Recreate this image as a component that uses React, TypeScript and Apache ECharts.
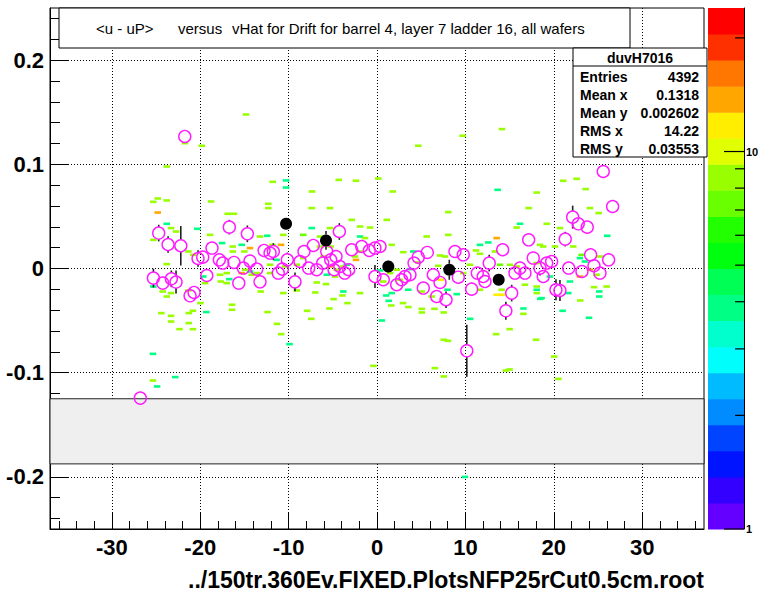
import React, { useEffect, useRef } from 'react';
import * as echarts from 'echarts';

// ---------- axis ranges & ticks ----------
const X_MIN = -37;
const X_MAX = 37;
const Y_MIN = -0.25;
const Y_MAX = 0.25;
const Z_MAX = 24;

const xTickValues = [-30, -20, -10, 0, 10, 20, 30];
const yTickValues = [-0.2, -0.1, 0, 0.1, 0.2];
const zTickValues = [1, 2, 3, 4, 5, 6, 7, 8, 9, 10, 20];
const zLabelValues = [1, 10];

const binWidthX = 0.74;
const binWidthY = 0.0025;
const greyBand = [-0.1875, -0.125];

// ---------- texts ----------
const titleLeft = '<u - uP>';
const titleMid = 'versus';
const titleRight = 'vHat for Drift for barrel 4, layer 7 ladder 16, all wafers';
const statsName = 'duvH7016';
const statsLabels = ['Entries', 'Mean x', 'Mean y', 'RMS x', 'RMS y'];
const statsValues = ['4392', '0.1318', '0.002602', '14.22', '0.03553'];
const xTitle = '../150tr.360Ev.FIXED.PlotsNFP25rCut0.5cm.root';

// ---------- profile (magenta open circles): [x, mean, error] ----------
const profilePoints = [
  [-26.78, -0.1244, 0.005], [-25.3, -0.0092, 0.009], [-24.7, 0.034, 0.008], [-24.24, -0.014, 0.006],
  [-23.64, 0.023, 0.008], [-23.27, -0.0099, 0.008], [-22.74, -0.013, 0.011], [-22.2, 0.0218, 0.019],
  [-21.75, 0.1267, 0.004], [-21.15, -0.0262, 0.005], [-20.7, -0.023, 0.006], [-20.25, 0.0096, 0.008],
  [-19.72, 0.0109, 0.005], [-19.26, -0.0067, 0.005], [-18.67, 0.0196, 0.005], [-17.84, 0.0083, 0.005],
  [-17.45, 0.0052, 0.005], [-16.71, 0.0397, 0.007], [-16.18, 0.0058, 0.005], [-15.64, -0.014, 0.005],
  [-15.12, 0.0004, 0.005], [-14.67, 0.0333, 0.008], [-14.37, 0.0071, 0.005], [-13.61, -0.0006, 0.005],
  [-13.24, -0.0128, 0.005], [-12.78, 0.0173, 0.005], [-12.1, 0.0148, 0.005], [-11.73, 0.0163, 0.008],
  [-11.17, -0.0044, 0.005], [-10.71, -0.0006, 0.005], [-10.15, 0.0083, 0.007], [-9.28, -0.0128, 0.009],
  [-8.71, 0.0067, 0.005], [-8.26, 0.0163, 0.005], [-7.73, 0.0004, 0.005], [-7.21, 0.0221, 0.005],
  [-6.82, -0.0012, 0.005], [-6.14, 0.0052, 0.005], [-5.69, 0.0163, 0.005], [-5.24, 0.0083, 0.005],
  [-4.86, -0.0012, 0.005], [-4.64, 0.0115, 0.005], [-4.26, 0.0355, 0.008], [-4.2, 0.0019, 0.005],
  [-3.65, -0.0044, 0.005], [-3.2, -0.0012, 0.005], [-2.86, 0.018, 0.005], [-1.73, 0.0211, 0.005],
  [-0.87, 0.0173, 0.005], [-0.23, 0.0196, 0.005], [-0.23, -0.0077, 0.011], [0.34, 0.0211, 0.005],
  [0.71, -0.0108, 0.005], [2.23, -0.0156, 0.005], [2.79, -0.0108, 0.005], [3.17, -0.0077, 0.005],
  [3.73, -0.006, 0.005], [4.19, 0.0052, 0.005], [4.67, 0.0109, 0.005], [5.24, -0.0188, 0.005],
  [5.69, 0.0154, 0.005], [6.37, -0.006, 0.005], [6.75, -0.0269, 0.005], [7.13, -0.0134, 0.005],
  [7.81, -0.03, 0.008], [8.82, 0.0163, 0.005], [9.2, -0.0083, 0.005], [9.76, 0.0131, 0.005],
  [10.16, -0.079, 0.025], [10.71, -0.0198, 0.006], [11.35, -0.0044, 0.005], [12.02, -0.0077, 0.005],
  [12.22, -0.0125, 0.005], [12.7, 0.0052, 0.008], [14.22, 0.018, 0.005], [14.58, -0.0406, 0.0086],
  [15.24, -0.0236, 0.008], [15.61, -0.0044, 0.005], [16.18, 0.0004, 0.005], [16.74, -0.0044, 0.005],
  [17.16, 0.0275, 0.005], [17.68, 0.01, 0.005], [18.44, 0.0004, 0.007], [18.81, -0.0077, 0.005],
  [19.2, 0.0052, 0.005], [19.76, 0.0067, 0.005], [20.25, -0.0204, 0.01], [20.7, -0.0211, 0.01],
  [21.3, 0.0282, 0.007], [21.69, 0.0004, 0.005], [22.14, 0.0493, 0.011], [22.77, 0.0429, 0.005],
  [23.19, -0.0029, 0.005], [23.79, 0.0397, 0.005], [24.17, 0.0131, 0.005], [24.55, 0.0026, 0.005],
  [25.23, -0.0044, 0.005], [25.6, 0.0931, 0.005], [26.21, 0.0083, 0.005], [26.66, 0.0595, 0.005],
];

// ---------- coarse profile (black filled circles): [x, mean, error] ----------
const coarsePoints = [
  [-10.29, 0.0429, 0.005], [-5.77, 0.0269, 0.009], [1.28, 0.0019, 0.006],
  [8.18, -0.0012, 0.0096], [13.77, -0.0108, 0.005],
];

// ---------- 2D histogram cells: [x, y, count] ----------
const cells = [
  [-14.82, 0.1478, 9], [-21.72, 0.1203, 9], [-19.83, 0.1178, 9], [-23.79, 0.0979, 9],
  [-11.8, 0.0832, 9], [-10.29, 0.0845, 4], [-10.29, 0.0777, 4], [-4.33, 0.0851, 9],
  [-2.38, 0.0842, 9], [0.15, 0.0864, 9], [-7.35, 0.0739, 9], [-24.81, 0.0672, 9],
  [-25.31, 0.064, 9], [-23.79, 0.0653, 9], [-18.78, 0.0643, 9], [-24.81, 0.0537, 14],
  [-12.3, 0.0621, 9], [-12.3, 0.058, 9], [-7.39, 0.058, 9], [-5.32, 0.058, 9],
  [-16.9, 0.0525, 9], [-16.2, 0.0525, 9], [-23.79, 0.0429, 4], [-23.3, 0.0388, 9],
  [-22.74, 0.0355, 9], [-25.31, 0.0275, 9], [-20.33, 0.0381, 4], [-18.89, 0.0323, 9],
  [-17.53, 0.0244, 4], [-14.37, 0.0196, 14], [-16.32, 0.0211, 9], [-16.32, 0.0163, 9],
  [-15.31, 0.0227, 4], [-15.01, 0.0163, 9], [-13.24, 0.0307, 9], [-12.41, 0.0314, 4],
  [-11.84, 0.0227, 9], [-10.86, 0.0227, 14], [-10.6, 0.0323, 9], [-8.34, 0.0323, 7],
  [-7.39, 0.0388, 4], [-6.45, 0.0307, 9], [-5.32, 0.0388, 9], [-6.45, 0.0211, 9],
  [-5.24, 0.0211, 9], [-2.86, 0.0467, 9], [-1.92, 0.0403, 9], [-0.79, 0.0393, 9],
  [-1.92, 0.0307, 4], [-1.36, 0.0292, 9], [-2.49, 0.0115, 9], [-1.92, 0.0163, 9],
  [-2.38, 0.0083, 14], [-3.43, 0.0036, 4], [-23.79, 0.0042, 9], [-21.35, 0.0163, 9],
  [-20.78, 0.0131, 9], [-19.46, -0.014, 9], [-17.76, -0.006, 9], [-17.0, -0.0044, 9],
  [-17.68, -0.0125, 9], [-17.0, -0.014, 9], [-16.71, -0.0102, 4], [-15.31, -0.0044, 14],
  [-14.37, -0.0029, 4], [-13.61, -0.0044, 9], [-14.9, -0.0012, 9], [-14.17, -0.006, 9],
  [-12.1, -0.0044, 9], [-12.1, 0.0036, 9], [-11.35, 0.0083, 4], [-10.41, 0.0019, 9],
  [-9.08, 0.0036, 9], [-8.34, 0.01, 9], [-6.07, 0.0115, 9], [-5.32, 0.0019, 14],
  [-4.56, -0.0012, 9], [-3.81, 0.0019, 9], [-4.75, -0.0077, 9], [-5.69, -0.006, 4],
  [-6.82, -0.0134, 9], [-5.77, -0.015, 9], [-3.81, -0.0221, 4], [-1.92, -0.0236, 9],
  [-6.98, -0.023, 9], [-9.08, -0.0211, 9], [-10.6, -0.0236, 9], [-13.16, -0.0221, 9],
  [-21.35, -0.0211, 9], [-23.79, -0.0269, 9], [-25.31, -0.0173, 4], [-19.65, -0.0077, 4],
  [14.14, 0.1338, 9], [9.69, 0.1274, 9], [4.67, 0.1178, 9], [13.65, 0.0755, 4],
  [1.78, 0.0739, 9], [18.07, 0.0729, 9], [21.07, 0.0842, 9], [22.59, 0.0861, 9],
  [23.61, 0.0762, 9], [17.16, 0.058, 9], [24.1, 0.058, 9], [25.08, 0.0532, 9],
  [8.07, 0.0541, 9], [1.1, 0.0467, 9], [15.8, 0.0393, 9], [16.18, 0.0429, 4],
  [19.2, 0.0429, 9], [20.7, 0.0388, 9], [22.21, 0.0211, 9], [26.05, 0.0314, 4],
  [8.07, 0.0323, 9], [5.62, 0.0307, 9], [1.66, 0.0227, 9], [4.11, 0.0163, 4],
  [2.98, 0.0157, 9], [7.13, 0.0125, 9], [7.69, 0.0115, 9], [11.65, 0.0227, 4],
  [12.59, 0.025, 4], [11.2, 0.0173, 9], [11.65, 0.0141, 9], [13.54, 0.0292, 14],
  [13.35, 0.0163, 9], [18.44, 0.0227, 9], [18.81, 0.0211, 9], [20.14, 0.0211, 9],
  [23.16, 0.0131, 7], [22.96, 0.01, 4], [23.53, 0.0067, 4], [25.23, 0.0115, 9],
  [18.07, 0.0052, 9], [15.05, 0.0036, 9], [15.8, 0.0019, 9], [13.91, 0.0036, 7],
  [9.76, -0.0044, 9], [10.52, 0.0036, 9], [6.93, 0.0026, 9], [4.67, 0.0058, 9],
  [3.73, -0.0006, 4], [2.23, -0.0012, 9], [1.47, -0.0044, 9], [0.34, -0.0019, 4],
  [2.6, -0.0108, 9], [0.71, -0.0125, 9], [1.66, -0.0236, 4], [3.54, -0.0204, 4],
  [5.06, -0.0221, 9], [7.21, -0.0108, 12], [9.02, -0.0246, 4], [6.19, -0.0269, 9],
  [11.65, -0.0204, 9], [13.54, -0.0252, 12], [14.11, -0.0252, 12], [16.74, -0.0156, 9],
  [18.07, -0.0173, 9], [18.07, -0.0204, 4], [18.07, -0.0236, 9], [18.63, -0.0284, 4],
  [21.83, -0.0125, 4], [21.64, -0.0236, 4], [22.96, -0.0077, 14], [24.1, -0.0012, 14],
  [25.15, -0.0221, 4], [25.15, -0.0269, 4], [25.98, -0.0173, 9], [24.85, -0.006, 9],
  [19.57, -0.0077, 4],
  [-24.25, -0.0221, 9], [-23.3, -0.0236, 9], [-24.4, -0.0428, 9], [-23.3, -0.0454, 9],
  [-23.3, -0.0509, 9], [-21.3, -0.0428, 9], [-20.83, -0.0406, 9], [-21.3, -0.0524, 9],
  [-22.35, -0.0582, 9], [-20.83, -0.0582, 9], [-25.35, -0.0819, 4], [-25.35, -0.1075, 9],
  [-24.88, -0.1132, 4], [-22.83, -0.1042, 4], [-19.31, -0.0418, 4], [-19.98, -0.0332, 9],
  [-16.4, -0.0348, 9], [-16.4, -0.0396, 9], [-12.38, -0.0418, 9], [-11.32, -0.0531, 9],
  [-10.85, -0.063, 9], [-9.9, -0.0726, 4], [-7.91, -0.0406, 9], [-7.43, -0.0483, 9],
  [-4.91, -0.0294, 9], [-3.34, -0.0332, 9], [-3.91, -0.0259, 9], [-5.38, -0.0384, 9],
  [0.55, -0.0499, 4], [1.03, -0.0259, 4], [1.32, -0.031, 4], [1.61, -0.0355, 9],
  [2.94, -0.0332, 9], [3.55, -0.037, 9], [5.07, -0.0387, 9], [5.07, -0.0422, 9],
  [6.5, -0.0387, 9], [7.55, -0.0422, 9], [7.98, -0.0204, 4], [6.55, -0.0956, 9],
  [7.55, -0.1036, 9], [-0.4, -0.0934, 9], [7.55, -0.0684, 9], [8.02, -0.0694, 9],
  [10.54, -0.0483, 4], [13.48, -0.063, 9], [15.01, -0.0582, 9], [14.58, -0.0979, 9],
  [15.01, -0.0969, 9], [16.57, -0.0384, 4], [16.57, -0.0435, 9], [18.0, -0.0684, 9],
  [18.47, -0.0291, 4], [20.05, -0.0845, 9], [20.52, -0.1059, 9], [21.0, -0.0406, 4],
  [23.0, -0.0307, 9], [23.99, -0.0473, 4], [24.56, -0.0179, 9], [14.11, -0.0204, 9],
  [9.95, -0.2, 4],
];

// ---------- styling ----------
const FONT = "'Liberation Sans', Arial, Helvetica, sans-serif";
const PALETTE = [
  '#6300ff', '#3300ff', '#0014ff', '#0044ff', '#008bff', '#00bbff', '#00fffc', '#00ffcc', '#00ff85', '#00ff55',
  '#00ff0e', '#22ff00', '#69ff00', '#99ff00', '#e0ff00', '#ffee00', '#ffa700', '#ff7700', '#ff3000', '#ff0000',
];
const N_CONT = PALETTE.length;
const LOGZ = Math.log10(Z_MAX);

function colorFor(count: number) {
  let j = Math.floor((Math.log10(count) / LOGZ) * N_CONT);
  if (j < 0) j = 0;
  if (j > N_CONT - 1) j = N_CONT - 1;
  return PALETTE[j];
}

const xMinor: number[] = [];
for (let v = -36; v <= 36; v += 2) if (v % 10 !== 0) xMinor.push(v);
const yMinor: number[] = [];
for (let k = -12; k <= 12; k++) if (k % 5 !== 0) yMinor.push(Math.round(k * 2) / 100);

function errorBarRenderer(radius: number) {
  return (params: any, api: any) => {
    const x = api.value(0);
    const y = api.value(1);
    const e = api.value(2);
    const c = api.coord([x, y]);
    const t = api.coord([x, y + e]);
    const b = api.coord([x, y - e]);
    const children: any[] = [];
    const style = { stroke: '#222', lineWidth: 1.6 };
    if (c[1] - t[1] > radius) children.push({ type: 'line', shape: { x1: c[0], y1: c[1] - radius, x2: c[0], y2: t[1] }, style });
    if (b[1] - c[1] > radius) children.push({ type: 'line', shape: { x1: c[0], y1: c[1] + radius, x2: c[0], y2: b[1] }, style });
    return { type: 'group', children };
  };
}

export default function App() {
  const ref = useRef<HTMLDivElement>(null);

  useEffect(() => {
    if (!ref.current) return;
    const chart = echarts.init(ref.current, undefined, { renderer: 'svg' });

    const statsRowsY = [76.5, 95, 113, 131, 148.5];
    const graphic: any[] = [
      // title box
      { type: 'rect', z: 100, shape: { x: 59, y: 8, width: 571, height: 40 }, style: { fill: '#fff', stroke: '#000', lineWidth: 1 } },
      { type: 'text', z: 101, x: 96, y: 28, style: { text: titleLeft, font: `15px ${FONT}`, fill: '#000', textVerticalAlign: 'middle' } },
      { type: 'text', z: 101, x: 178, y: 28, style: { text: titleMid, font: `15px ${FONT}`, fill: '#000', textVerticalAlign: 'middle' } },
      { type: 'text', z: 101, x: 232, y: 28, style: { text: titleRight, font: `15px ${FONT}`, fill: '#000', textVerticalAlign: 'middle' } },
      // stats box
      { type: 'rect', z: 100, shape: { x: 573, y: 48, width: 134, height: 109 }, style: { fill: '#fff', stroke: '#000', lineWidth: 1 } },
      { type: 'line', z: 101, shape: { x1: 573, y1: 66, x2: 707, y2: 66 }, style: { stroke: '#000', lineWidth: 1 } },
      { type: 'text', z: 101, x: 640, y: 57.5, style: { text: statsName, font: `bold 14px ${FONT}`, fill: '#000', textAlign: 'center', textVerticalAlign: 'middle' } },
      ...statsLabels.map((s, i) => ({ type: 'text', z: 101, x: 580, y: statsRowsY[i], style: { text: s, font: `bold 14px ${FONT}`, fill: '#000', textVerticalAlign: 'middle' } })),
      ...statsValues.map((s, i) => ({ type: 'text', z: 101, x: 699, y: statsRowsY[i], style: { text: s, font: `bold 14px ${FONT}`, fill: '#000', textAlign: 'right', textVerticalAlign: 'middle' } })),
      // x axis title
      { type: 'text', z: 101, x: 704, y: 580, style: { text: xTitle, font: `bold 23px ${FONT}`, fill: '#000', textAlign: 'right', textVerticalAlign: 'middle' } },
    ];

    const axisLabelStyle = { color: '#000', fontSize: 22, fontWeight: 'bold' as const, fontFamily: FONT };

    chart.setOption({
      animation: false,
      backgroundColor: '#fff',
      grid: [
        { left: 50, right: 55, top: 8, bottom: 64, outerBoundsMode: 'none', containLabel: false, show: true, borderColor: '#000', borderWidth: 1, backgroundColor: 'transparent' },
        { left: 708, top: 8, width: 36, height: 521, outerBoundsMode: 'none', containLabel: false, show: false },
      ],
      xAxis: [
        {
          type: 'value', gridIndex: 0, min: X_MIN, max: X_MAX, splitNumber: 7,
          axisLine: { show: true, onZero: false, lineStyle: { color: '#000', width: 1 } },
          axisTick: { show: true, inside: true, length: 16, customValues: xTickValues, lineStyle: { color: '#000', width: 1 } },
          axisLabel: { ...axisLabelStyle, margin: 7, customValues: xTickValues },
          splitLine: { show: true, lineStyle: { color: '#000', width: 1, type: [1, 2] } },
        },
        {
          type: 'value', gridIndex: 0, min: X_MIN, max: X_MAX, position: 'bottom',
          axisLine: { show: false, onZero: false },
          axisTick: { show: true, inside: true, length: 8, customValues: xMinor, lineStyle: { color: '#000', width: 1 } },
          axisLabel: { show: false },
          splitLine: { show: false },
        },
        { type: 'value', gridIndex: 1, min: 0, max: 1, show: false },
      ],
      yAxis: [
        {
          type: 'value', gridIndex: 0, min: Y_MIN, max: Y_MAX, splitNumber: 5,
          axisLine: { show: true, onZero: false, lineStyle: { color: '#000', width: 1 } },
          axisTick: { show: true, inside: true, length: 19, customValues: yTickValues, lineStyle: { color: '#000', width: 1 } },
          axisLabel: { ...axisLabelStyle, margin: 6, customValues: yTickValues, formatter: (v: number) => String(v) },
          splitLine: { show: true, lineStyle: { color: '#000', width: 1, type: [1, 2] } },
        },
        {
          type: 'value', gridIndex: 0, min: Y_MIN, max: Y_MAX, position: 'left',
          axisLine: { show: false, onZero: false },
          axisTick: { show: true, inside: true, length: 10, customValues: yMinor, lineStyle: { color: '#000', width: 1 } },
          axisLabel: { show: false },
          splitLine: { show: false },
        },
        {
          type: 'value', gridIndex: 1, min: 0, max: LOGZ, interval: 1, position: 'right',
          axisLine: { show: true, onZero: false, lineStyle: { color: '#000', width: 1 } },
          axisTick: { show: false },
          axisLabel: {
            color: '#000', fontSize: 11, fontWeight: 'bold', fontFamily: FONT, margin: 2,
            customValues: zLabelValues.map((v) => Math.log10(v)),
            formatter: (v: number) => String(Math.round(Math.pow(10, v))),
          },
          splitLine: { show: false },
        },
      ],
      graphic,
      series: [
        {
          name: 'cells', type: 'custom', xAxisIndex: 0, yAxisIndex: 0, clip: true, z: 1,
          data: cells,
          renderItem: (params: any, api: any) => {
            const x = api.value(0);
            const y = api.value(1);
            const n = api.value(2);
            const p0 = api.coord([x - binWidthX / 2, y + binWidthY / 2]);
            const p1 = api.coord([x + binWidthX / 2, y - binWidthY / 2]);
            return { type: 'rect', shape: { x: p0[0], y: p0[1], width: p1[0] - p0[0], height: p1[1] - p0[1] }, style: { fill: colorFor(n) } };
          },
        },
        {
          name: 'profileErr', type: 'custom', xAxisIndex: 0, yAxisIndex: 0, clip: true, z: 3,
          data: profilePoints, renderItem: errorBarRenderer(6),
        },
        {
          name: 'profile', type: 'scatter', xAxisIndex: 0, yAxisIndex: 0, z: 4,
          data: profilePoints.map((p) => [p[0], p[1]]),
          symbol: 'circle', symbolSize: 12,
          itemStyle: { color: 'rgba(0,0,0,0)', borderColor: '#ff1aff', borderWidth: 1.4, opacity: 1 },
        },
        {
          name: 'coarseErr', type: 'custom', xAxisIndex: 0, yAxisIndex: 0, clip: true, z: 5,
          data: coarsePoints, renderItem: errorBarRenderer(6),
        },
        {
          name: 'coarse', type: 'scatter', xAxisIndex: 0, yAxisIndex: 0, z: 6,
          data: coarsePoints.map((p) => [p[0], p[1]]),
          symbol: 'circle', symbolSize: 12,
          itemStyle: { color: '#000', opacity: 1 },
        },
        {
          name: 'band', type: 'scatter', xAxisIndex: 0, yAxisIndex: 0, z: 8, data: [],
          markArea: {
            silent: true,
            itemStyle: { color: '#efefef', borderColor: '#222', borderWidth: 1, opacity: 1 },
            data: [[{ xAxis: X_MIN, yAxis: greyBand[0] }, { xAxis: X_MAX, yAxis: greyBand[1] }]],
          },
        },
        {
          name: 'palette', type: 'custom', xAxisIndex: 2, yAxisIndex: 2, z: 2,
          data: PALETTE.map((_, i) => [i]),
          renderItem: (params: any, api: any) => {
            const i = api.value(0);
            const lo = (i * LOGZ) / N_CONT;
            const hi = ((i + 1) * LOGZ) / N_CONT;
            const p0 = api.coord([0, hi]);
            const p1 = api.coord([1, lo]);
            return { type: 'rect', shape: { x: p0[0], y: p0[1], width: p1[0] - p0[0], height: p1[1] - p0[1] + 0.5 }, style: { fill: PALETTE[i] } };
          },
        },
        {
          name: 'zticks', type: 'custom', xAxisIndex: 2, yAxisIndex: 2, z: 3,
          data: zTickValues.map((v) => [v]),
          renderItem: (params: any, api: any) => {
            const v = api.value(0);
            const p = api.coord([1, Math.log10(v)]);
            const len = zLabelValues.indexOf(v) >= 0 ? 20 : 9;
            return { type: 'line', shape: { x1: p[0] - len, y1: p[1], x2: p[0], y2: p[1] }, style: { stroke: '#000', lineWidth: 1.2 } };
          },
        },
      ],
    });

    return () => chart.dispose();
  }, []);

  return <div ref={ref} style={{ position: 'fixed', left: 0, top: 0, width: 759, height: 593 }} />;
}
